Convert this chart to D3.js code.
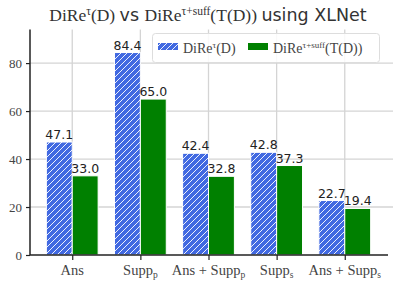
<!DOCTYPE html>
<html>
  <meta charset="utf-8" />
  <head>
    <script src="https://cdnjs.cloudflare.com/ajax/libs/d3/7.8.5/d3.min.js"></script>
    <style>
      body { margin: 0; background: #fff; }
    </style>
  </head>
  <body>
    <script>
    const categories = ["Ans", "Supp_p", "Ans + Supp_p", "Supp_s", "Ans + Supp_s"];
    const direTau = [47.1, 84.4, 42.4, 42.8, 22.7];
    const direSuff = [33.0, 65.0, 32.8, 37.3, 19.4];
    const yTicks = [0, 20, 40, 60, 80];

    const width = 393, height = 287;
    const serif = "'Liberation Serif', 'DejaVu Serif', serif";
    const sans = "'DejaVu Sans', sans-serif";

    const svg = d3.select("body").append("svg")
        .attr("width", width)
        .attr("height", height);

    const defs = svg.append("defs");
    const hatch = defs.append("pattern")
        .attr("id", "hatch")
        .attr("patternUnits", "userSpaceOnUse")
        .attr("width", 6)
        .attr("height", 6);
    hatch.append("rect").attr("width", 6).attr("height", 6).attr("fill", "#4169e1");
    hatch.append("path")
        .attr("d", "M-1,7 L7,-1 M-4,4 L4,-4 M2,10 L10,2")
        .attr("stroke", "#fff")
        .attr("stroke-width", 0.9);

    const x = d3.scaleLinear().domain([-0.62, 4.62]).range([30, 387]);
    const y = d3.scaleLinear().domain([0, 94]).range([255, 29.5]);
    const bw = 0.38;

    // grid
    svg.append("g").selectAll("line.h")
        .data(yTicks.slice(1))
        .join("line")
        .attr("x1", 30).attr("x2", 393)
        .attr("y1", d => y(d)).attr("y2", d => y(d))
        .attr("stroke", "#d4d4d4").attr("stroke-width", 1.3);
    svg.append("g").selectAll("line.v")
        .data(categories)
        .join("line")
        .attr("x1", (d, i) => x(i)).attr("x2", (d, i) => x(i))
        .attr("y1", y(94)).attr("y2", y(0))
        .attr("stroke", "#d4d4d4").attr("stroke-width", 1.3);

    // bars
    const series = [
        { values: direTau, fill: "url(#hatch)", off: -bw },
        { values: direSuff, fill: "#008000", off: 0 },
    ];
    series.forEach(s => {
        svg.append("g").selectAll("rect")
            .data(s.values)
            .join("rect")
            .attr("x", (d, i) => x(i + s.off))
            .attr("width", x(bw) - x(0))
            .attr("y", d => y(d))
            .attr("height", d => y(0) - y(d))
            .attr("fill", s.fill)
            .attr("stroke", "#fff")
            .attr("stroke-width", 1);
        svg.append("g").selectAll("text")
            .data(s.values)
            .join("text")
            .attr("x", (d, i) => x(i + s.off + bw / 2))
            .attr("y", d => y(d) - 3)
            .attr("text-anchor", "middle")
            .attr("font-family", sans)
            .attr("font-size", 12.5)
            .attr("fill", "#222")
            .text(d => d.toFixed(1));
    });

    // axes
    const yAxis = svg.append("g")
        .attr("transform", "translate(30,0)")
        .call(d3.axisLeft(y).tickValues(yTicks).tickSize(4).tickPadding(4));
    yAxis.select(".domain").attr("d", `M0,${y(94)}V${y(0)}`).attr("stroke", "#222").attr("stroke-width", 1.5);
    yAxis.selectAll(".tick line").attr("stroke", "#222").attr("stroke-width", 1.2);
    yAxis.selectAll(".tick text")
        .attr("font-family", serif).attr("font-size", 13).attr("fill", "#444");

    const xAxis = svg.append("g")
        .attr("transform", `translate(0,${y(0)})`)
        .call(d3.axisBottom(x).tickValues(d3.range(categories.length)).tickSize(5).tickFormat(""));
    xAxis.select(".domain").attr("d", `M30,0H388`).attr("stroke", "#222").attr("stroke-width", 1.5);
    xAxis.selectAll(".tick line").attr("stroke", "#222").attr("stroke-width", 1.2);

    const xl = svg.append("g").selectAll("text")
        .data(categories)
        .join("text")
        .attr("x", (d, i) => x(i))
        .attr("y", 275)
        .attr("text-anchor", "middle")
        .attr("font-family", serif)
        .attr("font-size", 14.5)
        .attr("fill", "#444");
    xl.each(function (d) {
        const t = d3.select(this);
        const parts = d.split("_");
        t.append("tspan").text(parts[0]);
        if (parts[1]) {
            t.append("tspan").attr("font-size", 9.5).attr("dy", 3).text(parts[1]);
        }
    });

    // title
    const title = svg.append("text")
        .attr("x", 208).attr("y", 21)
        .attr("text-anchor", "middle")
        .attr("font-size", 17.5)
        .attr("fill", "#333");
    const tparts = [
        { t: "DiRe", f: serif },
        { t: "τ", f: serif, sup: true },
        { t: "(D) ", f: serif, down: true },
        { t: "vs ", f: sans },
        { t: "DiRe", f: serif },
        { t: "τ+suff", f: serif, sup: true },
        { t: "(T(D)) ", f: serif, down: true },
        { t: "using XLNet", f: sans },
    ];
    tparts.forEach(p => {
        const ts = title.append("tspan").attr("font-family", p.f).text(p.t);
        if (p.sup) ts.attr("font-size", 11.5).attr("dy", -6);
        if (p.down) ts.attr("dy", 6);
    });

    // legend
    const lg = svg.append("g");
    lg.append("rect")
        .attr("x", 152.5).attr("y", 33.5).attr("width", 227).attr("height", 29)
        .attr("rx", 3)
        .attr("fill", "#fff").attr("fill-opacity", 0.85)
        .attr("stroke", "#ddd");
    const legendItems = [
        { fill: "url(#hatch)", px: 158, tx: 183, main: "DiRe", sup: "τ", tail: "(D)" },
        { fill: "#008000", px: 248, tx: 273, main: "DiRe", sup: "τ+suff", tail: "(T(D))" },
    ];
    legendItems.forEach(it => {
        lg.append("rect")
            .attr("x", it.px).attr("y", 43).attr("width", 20).attr("height", 7)
            .attr("fill", it.fill);
        const t = lg.append("text")
            .attr("x", it.tx).attr("y", 53)
            .attr("font-family", serif).attr("font-size", 14)
            .attr("fill", "#444");
        t.append("tspan").text(it.main);
        t.append("tspan").attr("font-size", 9).attr("dy", -5).text(it.sup);
        t.append("tspan").attr("dy", 5).text(it.tail);
    });
</script>
</body>
</html>
